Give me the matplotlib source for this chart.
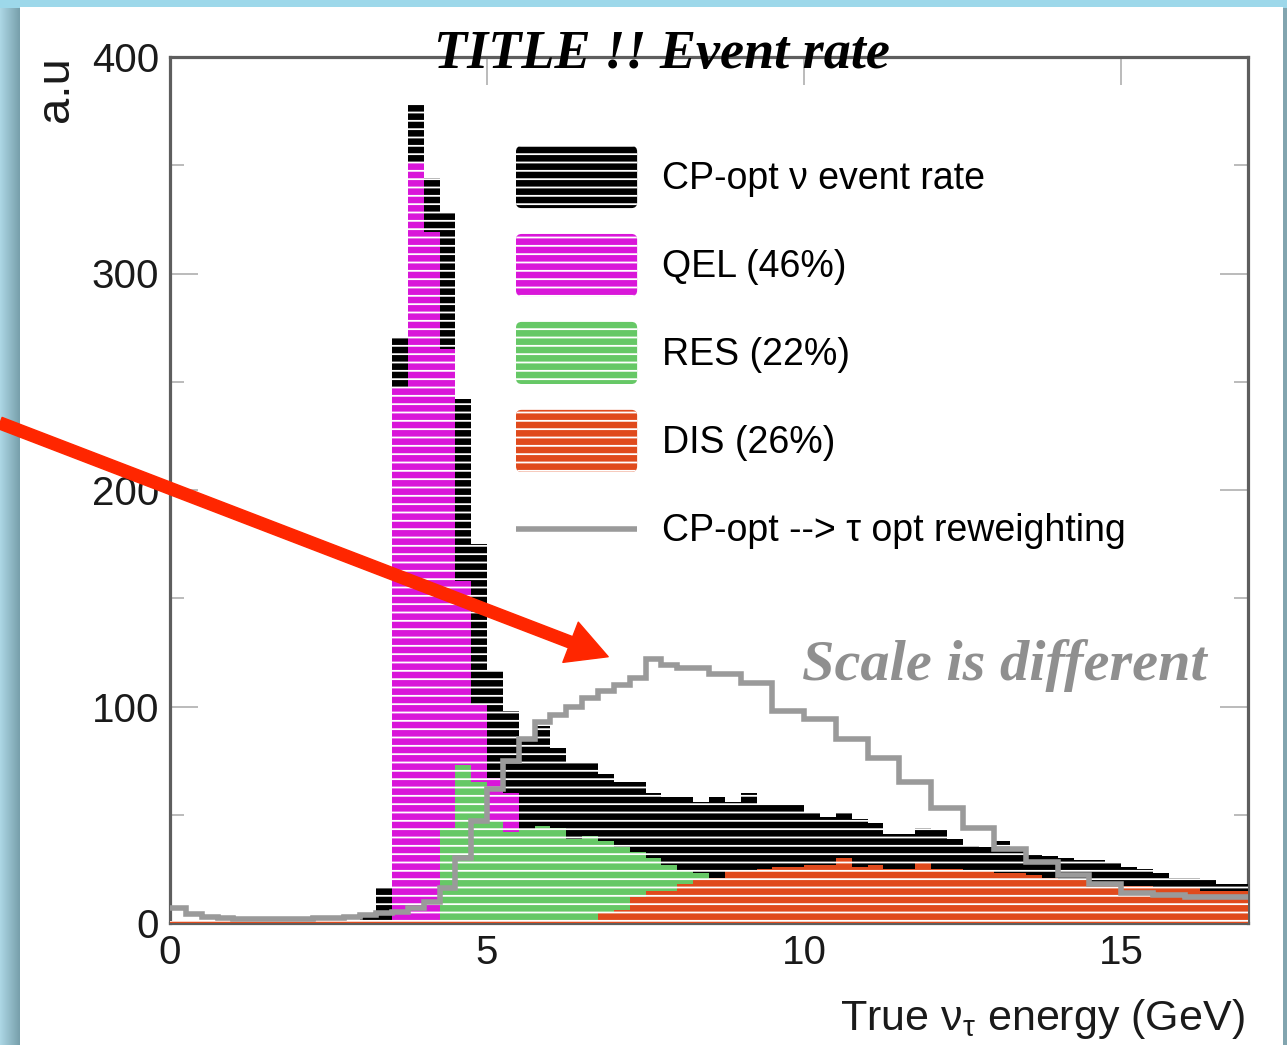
import numpy as np
import matplotlib
matplotlib.use("Agg")
import matplotlib.pyplot as plt
from matplotlib.patches import FancyBboxPatch, Patch
from matplotlib.lines import Line2D
from matplotlib.legend_handler import HandlerBase

plt.rcParams['font.family'] = ['Liberation Sans', 'DejaVu Sans']
plt.rcParams['mathtext.fontset'] = 'custom'
plt.rcParams['mathtext.rm'] = 'Liberation Sans'
plt.rcParams['mathtext.it'] = 'Liberation Sans:italic'
plt.rcParams['hatch.linewidth'] = 1.3

# ---------------------------------------------------------------- data
# 0.25 GeV bins from 0 to 17 GeV
edges = np.linspace(0.0, 17.0, 69)

total = [0, 0, 0, 0, 0, 0, 0, 0, 0, 0, 0, 0,
         5, 16, 270, 378, 344, 328, 242, 175,
         117, 98, 85, 91, 81, 74, 74, 69, 65, 65,
         60, 58, 58, 56, 58, 56, 60, 55, 55, 55,
         51, 49, 51, 48, 46, 41, 41, 44, 43, 39,
         36, 35, 38, 35, 32, 31, 30, 29, 29, 28,
         26, 25, 23, 21, 21, 20, 18, 18]

qel = [0, 0, 0, 0, 0, 0, 0, 0, 0, 0, 0, 0, 0, 0,
       247, 351, 319, 265, 158, 101, 67, 60, 30, 20,
       12, 8, 5, 4, 3, 3, 2, 2, 2, 1,
       1, 1, 1, 1, 1, 1, 1, 1, 1, 1, 1, 1, 1, 1,
       0, 0, 0, 0, 0, 0, 0, 0, 0, 0,
       0, 0, 0, 0, 0, 0, 0, 0, 0, 0]

res = [0, 0, 0, 0, 0, 0, 0, 0, 0, 0, 0, 0, 0, 0, 0, 0, 0,
       44, 73, 65, 47, 42, 43, 45, 44, 39, 40,
       38, 35, 33, 30, 27, 24, 23, 21, 18, 16,
       14, 12, 11, 10, 9, 8, 8, 7, 7, 6,
       6, 5, 5, 5, 4, 4, 4, 3, 3, 3,
       3, 2, 2, 2, 2, 2, 2, 2, 1, 1, 1]

dis = [1, 1, 1, 1, 1, 1, 1, 1, 1, 1, 1, 1, 1, 1, 1, 1, 1, 1, 1, 1,
       1, 1, 1, 1, 1, 1, 1,
       5, 6, 12, 15, 15, 18, 20, 21, 24, 24,
       25, 26, 26, 27, 27, 30, 26, 27, 25, 25,
       28, 25, 25, 24, 24, 23, 23, 22, 21, 20,
       20, 19, 18, 17, 17, 16, 16, 16, 15, 15, 15]

# reweighted spectrum: 0.25 GeV bins below 8 GeV, 0.5 GeV bins above
rew_edges = np.concatenate([np.linspace(0.0, 7.75, 32), np.linspace(8.0, 17.0, 19)])
rew = [7, 4, 3, 2.5, 2, 2, 2, 2,
       2, 2.5, 2.5, 3, 3.5, 4.5, 5, 7,
       9.5, 16, 30, 47, 62, 75, 85, 93,
       96, 100, 104, 107, 110, 113, 122, 119,
       118, 115, 111, 98, 94, 85, 76, 65, 53,
       44, 34, 28, 22, 18, 14, 13, 12, 12]

labels = ["CP-opt \u03bd event rate", "QEL (46%)", "RES (22%)", "DIS (26%)",
          "CP-opt --> \u03c4 opt reweighting"]
colors = ["#000000", "#d916d9", "#66c866", "#e04a1c"]
rew_color = "#9a9a9a"

# ---------------------------------------------------------------- figure
W, H = 1287, 1045
fig = plt.figure(figsize=(W / 100, H / 100), dpi=100)

# slide-like backdrop: light blue frame around a white panel
bgimg = np.ones((H, W, 3))
bgimg[:, :, 0] = 157 / 255
bgimg[:, :, 1] = 216 / 255
bgimg[:, :, 2] = 234 / 255
left_w = 20
t = np.linspace(0, 1, left_w)[None, :]
c0 = np.array([172, 214, 228]) / 255
c1 = np.array([120, 160, 172]) / 255
for ch in range(3):
    bgimg[8:, :left_w, ch] = c0[ch] * (1 - t) + c1[ch] * t
bgimg[8:, 1283:, :] = np.array([130, 165, 175]) / 255
bgimg[7:, left_w:1283, :] = 1.0
fig.figimage(bgimg, xo=0, yo=0, origin='upper', zorder=-10)

ax = fig.add_axes([170 / W, 1 - 923 / H, 1078 / W, 866 / H])
ax.set_facecolor('white')

ax.stairs(total, edges, fill=True, facecolor=colors[0], edgecolor='white',
          hatch='--', linewidth=0, zorder=3)
ax.stairs(qel, edges, fill=True, facecolor=colors[1], edgecolor='white',
          hatch='--', linewidth=0, zorder=4)
ax.stairs(res, edges, fill=True, facecolor=colors[2], edgecolor='white',
          hatch='--', linewidth=0, zorder=5)
ax.stairs(dis, edges, fill=True, facecolor=colors[3], edgecolor='white',
          hatch='--', linewidth=0, zorder=6)
ax.stairs(rew, rew_edges, baseline=None, color=rew_color, linewidth=4, zorder=7)

ax.set_xlim(0, 17)
ax.set_ylim(0, 400)
ax.set_xticks([0, 5, 10, 15])
ax.set_yticks([0, 100, 200, 300, 400])
ax.set_yticks([50, 150, 250, 350], minor=True)
ax.tick_params(which='both', direction='in', top=True, right=True,
               color='#a8a8a8', width=1.1, labelsize=29, labelcolor='#1a1a1a')
ax.tick_params(which='major', length=20, pad=8)
ax.tick_params(which='minor', length=10)
for sp in ax.spines.values():
    sp.set_color('#5e5e5e')
    sp.set_linewidth(2.3)

# legend with rounded, hatched swatches
class RoundBoxHandler(HandlerBase):
    def create_artists(self, legend, orig_handle, xdescent, ydescent,
                       width, height, fontsize, trans):
        box = FancyBboxPatch((-xdescent, -ydescent), width, height,
                             boxstyle='round,pad=0,rounding_size=4',
                             facecolor=orig_handle.get_facecolor(),
                             edgecolor='white', hatch='--', linewidth=0,
                             transform=trans)
        return [box]


class CenteredLineHandler(HandlerBase):
    def create_artists(self, legend, orig_handle, xdescent, ydescent,
                       width, height, fontsize, trans):
        yc = -ydescent + height / 2
        line = Line2D([-xdescent, -xdescent + width], [yc, yc],
                      color=orig_handle.get_color(),
                      linewidth=orig_handle.get_linewidth(),
                      solid_capstyle='butt', transform=trans)
        return [line]


handles = [Patch(facecolor=c) for c in colors]
handles.append(Line2D([], [], color=rew_color, linewidth=4))
ax.legend(handles, labels, loc='upper left',
          bbox_to_anchor=((516 - 170) / 1078, (923 - 146) / 866),
          frameon=False, fontsize=27, borderaxespad=0, borderpad=0,
          handlelength=3.23, handleheight=2.17, handletextpad=0.67,
          labelspacing=0.69,
          handler_map={Patch: RoundBoxHandler(), Line2D: CenteredLineHandler()})

# axis titles
fig.text(56 / W, 1 - 56 / H, 'a.u', rotation=90, ha='center', va='top',
         fontsize=34, color='#1a1a1a')
fig.text(1245 / W, 1 - 1030 / H, 'True \u03bd$_{\\mathrm{\u03c4}}$ energy (GeV)',
         ha='right', va='baseline', fontsize=31, color='#1a1a1a')

# headline and note
fig.text(662 / W, 1 - 68 / H, 'TITLE !! Event rate', ha='center', va='baseline',
         family='Liberation Serif', style='italic', weight='bold', fontsize=39,
         color='black', zorder=30)
fig.text(1004 / W, 1 - 680 / H, 'Scale is different', ha='center', va='baseline',
         family='Liberation Serif', style='italic', weight='bold', fontsize=42,
         color='#8f8f8f', zorder=30)

# pointer to the reweighted curve
ax.annotate('', xy=(6.91, 123), xycoords='data',
            xytext=(0, H - 423), textcoords='figure pixels',
            arrowprops=dict(arrowstyle='simple,head_length=2.9,head_width=3.1,tail_width=0.86',
                            mutation_scale=10, color='#ff2600', shrinkA=0, shrinkB=0),
            annotation_clip=False, zorder=40)

fig.savefig('out.png', dpi=100)
